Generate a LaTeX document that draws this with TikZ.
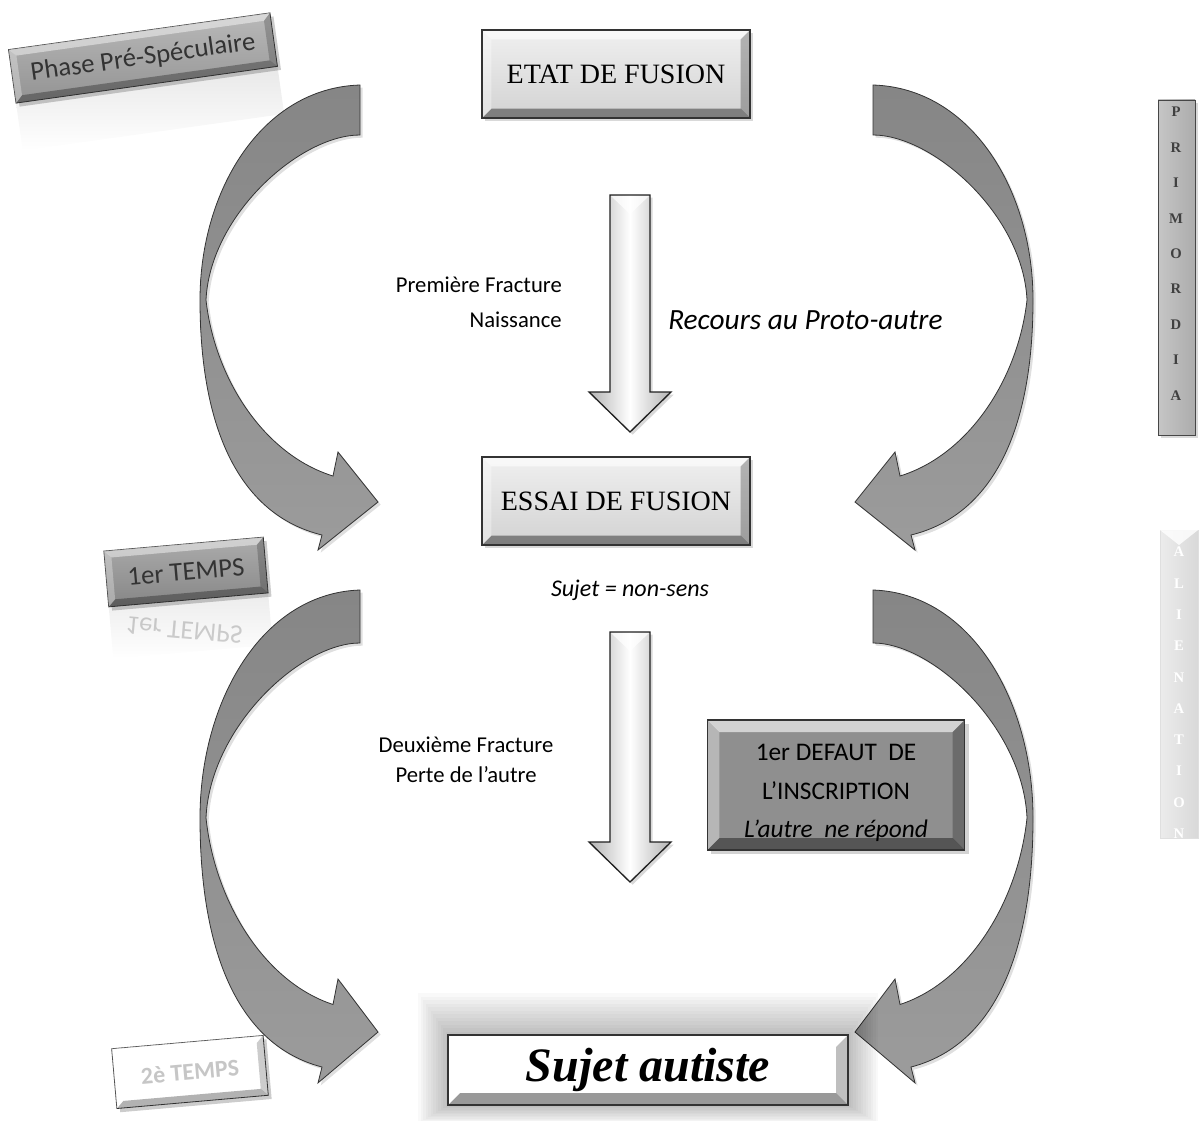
\documentclass[tikz,border=0pt]{standalone}
\usepackage{fontspec}
\setmainfont{Liberation Serif}
\newfontfamily\calib{Carlito}
\usetikzlibrary{shadows,calc}
\tikzset{
  bevel/.style={path picture={
    \fill[white,opacity=.6] (path picture bounding box.north west) -- (path picture bounding box.north east) -- ([shift={(-#1,-#1)}]path picture bounding box.north east) -- ([shift={(#1,-#1)}]path picture bounding box.north west) -- cycle;
    \fill[black,opacity=.4] (path picture bounding box.south west) -- (path picture bounding box.south east) -- ([shift={(-#1,#1)}]path picture bounding box.south east) -- ([shift={(#1,#1)}]path picture bounding box.south west) -- cycle;
    \fill[white,opacity=.35] (path picture bounding box.north west) -- (path picture bounding box.south west) -- ([shift={(#1,#1)}]path picture bounding box.south west) -- ([shift={(#1,-#1)}]path picture bounding box.north west) -- cycle;
    \fill[black,opacity=.25] (path picture bounding box.north east) -- (path picture bounding box.south east) -- ([shift={(-#1,#1)}]path picture bounding box.south east) -- ([shift={(-#1,-#1)}]path picture bounding box.north east) -- cycle;
  }},
  mainbox/.style={draw=gray!40!black, line width=0.8pt, top color=gray!12, bottom color=gray!35,
     minimum width=201pt, minimum height=66pt, bevel=7pt, drop shadow={opacity=.3,shadow xshift=2pt,shadow yshift=-2pt},
     font=\fontsize{21pt}{24pt}\selectfont},
  curvarrow/.style={top color=gray!95, bottom color=gray!78, draw=gray!40!black, line width=0.6pt,
     drop shadow={opacity=.25,shadow xshift=2pt,shadow yshift=-2pt}},
  downarrow/.style={left color=gray!60, right color=gray!60, middle color=white, draw=gray!25!black, line width=1pt,
     drop shadow={opacity=.3,shadow xshift=2pt,shadow yshift=-2pt}},
  sidetext/.style={font=\calib\fontsize{17pt}{20pt}\selectfont, inner sep=0pt},
  boxtext/.style={font=\calib\fontsize{19pt}{22pt}\selectfont},
  tagtext/.style={font=\calib\fontsize{20pt}{22pt}\selectfont, text=black!80, inner sep=0pt, transform shape},
  barletter/.style={font=\fontsize{11pt}{12pt}\selectfont\bfseries},
}
% tag box: center, angle, half width, half height, top colour, name, text, extra text style, bottom colour
\newcommand\TagBox[9]{%
\begin{scope}[shift={(#1)},rotate=#2]
  \fill[black,opacity=.2] (-#3+3,-#4+4) rectangle (#3+3,#4+4);
  \shade[top color=#5, bottom color=#9, draw=gray!45!black, line width=.6pt] (-#3,-#4) rectangle (#3,#4);
  \fill[white,opacity=.45] (-#3,-#4) -- (#3,-#4) -- (#3-7,-#4+7) -- (-#3+7,-#4+7) -- cycle;
  \fill[black,opacity=.3] (-#3,#4) -- (#3,#4) -- (#3-7,#4-7) -- (-#3+7,#4-7) -- cycle;
  \fill[white,opacity=.3] (-#3,-#4) -- (-#3,#4) -- (-#3+7,#4-7) -- (-#3+7,-#4+7) -- cycle;
  \fill[black,opacity=.2] (#3,-#4) -- (#3,#4) -- (#3-7,#4-7) -- (#3-7,-#4+7) -- cycle;
  \node[tagtext,#8] (#6) at (0,0) {#7};
\end{scope}}
% curved block arrow, drawn for the upper-left position, y mapped by shift/scale
\newcommand\CurvedArrow{%
\shade[curvarrow] (360,85) .. controls (262,88) and (200,190) .. (200,300)
   .. controls (200,430) and (240,515) .. (322,535)
   -- (318,550) -- (378,502) -- (338,452) -- (333,476)
   .. controls (265,455) and (215,380) .. (206,300)
   .. controls (210,215) and (300,135) .. (360,135) -- cycle;}
\begin{document}
\begin{tikzpicture}[x=0.75pt,y=-0.75pt]
\useasboundingbox (0,0) rectangle (1201,1120);

% ---------- reflections (behind everything) ----------
\begin{scope}[shift={(143,58)},rotate=8]
  \shade[top color=gray!18, bottom color=white] (-132,27) rectangle (132,75);
\end{scope}
\begin{scope}[shift={(186,572)},rotate=5]
  \shade[top color=gray!15, bottom color=white] (-80,28) rectangle (80,80);
\end{scope}
\node[font=\calib\fontsize{20pt}{22pt}\selectfont, text=black, opacity=.18, rotate=-5, yscale=-1] (temps1r) at (184,630) {1er TEMPS};

% ---------- curved arrows ----------
\CurvedArrow
\begin{scope}[shift={(1233,0)},xscale=-1]\CurvedArrow\end{scope}
\begin{scope}[shift={(0,590)},yscale=1.06,shift={(0,-85)}]\CurvedArrow\end{scope}
\begin{scope}[shift={(1233,590)},xscale=-1,yscale=1.06,shift={(0,-85)}]\CurvedArrow\end{scope}

% ---------- main boxes ----------
\node[mainbox] (etat) at (616,74) {ETAT DE FUSION};
\node[mainbox] (essai) at (616,501) {ESSAI DE FUSION};

% glow of final box
\foreach \i in {1,...,12}
  \fill[black,opacity=.022] (448-2.5*\i,1035-3.5*\i) rectangle (848+2.5*\i,1105+1.5*\i);
\node[draw=gray!40!black, line width=1pt, fill=white, minimum width=300pt, minimum height=52.5pt,
      bevel=9pt, font=\bfseries\itshape\fontsize{36pt}{40pt}\selectfont] (sujet) at (648,1070) {Sujet autiste};

\node[draw=gray!40!black, line width=0.8pt, fill=gray!88, minimum width=193pt, minimum height=97.5pt, bevel=9pt,
      drop shadow={opacity=.35,shadow xshift=3pt,shadow yshift=-3pt}] (defaut) at (836,785) {};
\node[boxtext] (def1) at (836,752) {1er DEFAUT\ \ DE};
\node[boxtext] (def2) at (836,791) {L’INSCRIPTION};
\node[boxtext, font=\calib\itshape\fontsize{19pt}{22pt}\selectfont] (def3) at (836,831) {L’autre\ \ ne répond};

% ---------- down arrows ----------
\shade[downarrow] (610,195) -- (650,195) -- (650,392) -- (671,392) -- (630,432) -- (589,392) -- (610,392) -- cycle;
\fill[white,opacity=.7] (611,196) -- (649,196) -- (630,214) -- cycle;
\shade[downarrow] (610,632) -- (650,632) -- (650,842) -- (671,842) -- (630,882) -- (589,842) -- (610,842) -- cycle;
\fill[white,opacity=.7] (611,633) -- (649,633) -- (630,651) -- cycle;

% ---------- texts ----------
\node[sidetext, anchor=east] (pf) at (562,285) {Première Fracture};
\node[sidetext, anchor=east] (nai) at (562,320) {Naissance};
\node[sidetext, anchor=west, font=\calib\itshape\fontsize{22pt}{24pt}\selectfont] (rec) at (668,320) {Recours au Proto-autre};
\node[sidetext, font=\calib\itshape\fontsize{18pt}{20pt}\selectfont] (nonsens) at (630,590) {Sujet = non-sens};
\node[sidetext] (df) at (466,745) {Deuxième Fracture};
\node[sidetext] (perte) at (466,775) {Perte de l’autre};

% ---------- tag boxes ----------
\TagBox{143,58}{8}{132}{27}{gray!55}{phase}{Phase Pré-Spéculaire}{}{gray!85}
\TagBox{186,572}{5}{80}{28}{gray!65}{temps1}{1er TEMPS}{}{gray!95}
\TagBox{190,1072}{5}{76}{30}{white}{temps2}{2è TEMPS}{font=\calib\bfseries\fontsize{18pt}{20pt}\selectfont, text=gray!45}{white}

% ---------- right bars ----------
\shade[left color=gray!45, right color=gray!65, draw=gray!55!black, line width=.6pt,
       drop shadow={opacity=.3,shadow xshift=2pt,shadow yshift=-2pt}] (1158,100) rectangle (1195,435);
\foreach \l [count=\i] in {P,R,I,M,O,R,D,I,A}
  \node[barletter, text=black!75] (prim\i) at (1176,{112+35.4*(\i-1)}) {\l};
\shade[left color=gray!15, right color=gray!30, draw=gray!25, line width=.6pt] (1160,530) rectangle (1198,838);
\fill[white,opacity=.8] (1160,530) -- (1198,530) -- (1179,545) -- cycle;
\foreach \l [count=\i] in {A,L,I,E,N,A,T,I,O,N}
  \node[barletter, text=white] (alien\i) at (1179,{552+31.3*(\i-1)}) {\l};
\end{tikzpicture}
\end{document}
